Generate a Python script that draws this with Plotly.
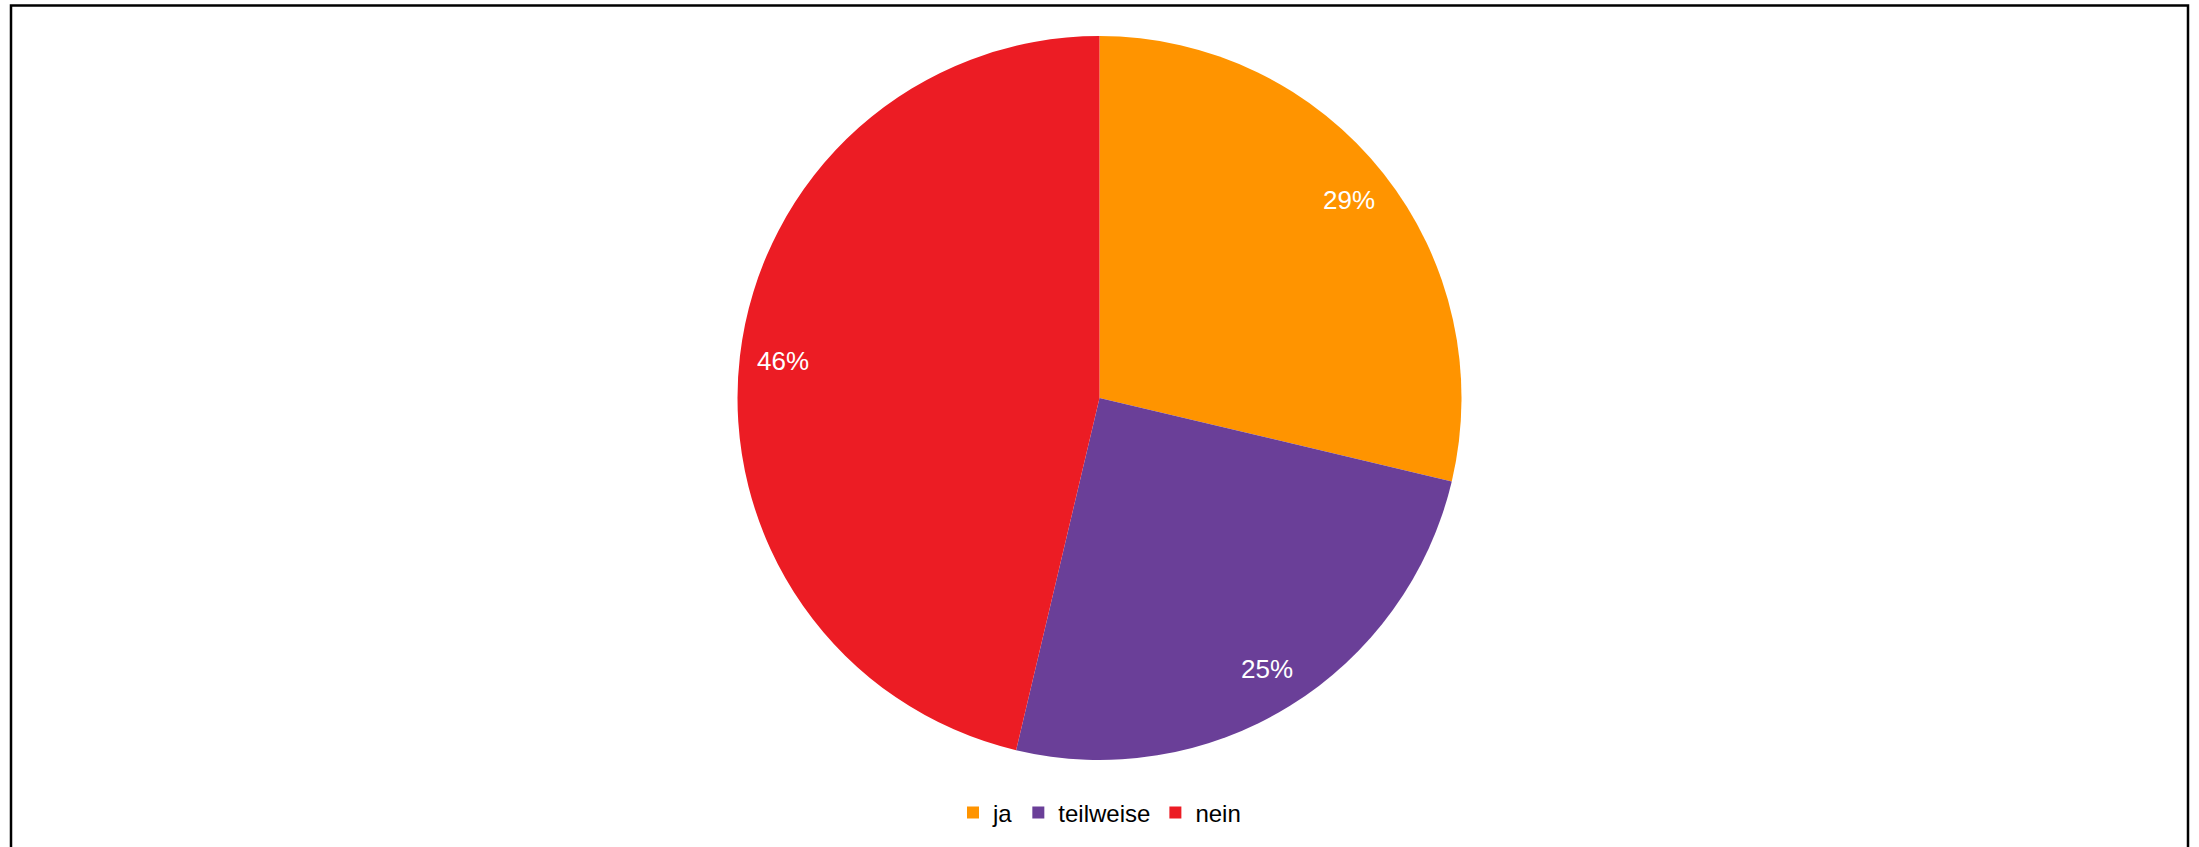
import math
import plotly.graph_objects as go

labels = ["ja", "teilweise", "nein"]
values = [28.7, 25.0, 46.3]
colors = ["#FF9400", "#6A3F98", "#EC1C24"]

W, H = 2199, 847
# pie geometry in pixels (domain)
X0, X1, YT, YB = 737.5, 1461.5, 36, 760
CX, CY = (X0 + X1) / 2, (YT + YB) / 2
R = min(X1 - X0, YB - YT) / 2
LABEL_R = 0.88

fig = go.Figure(go.Pie(
    labels=labels,
    values=values,
    marker=dict(colors=colors, line=dict(width=0)),
    sort=False,
    direction="clockwise",
    rotation=0,
    textinfo="none",
    domain=dict(x=[X0 / W, X1 / W], y=[(H - YB) / H, (H - YT) / H]),
    hoverinfo="label+percent",
))

# percentage labels placed along each slice bisector (computed from the data)
total = sum(values)
cum = 0.0
for v in values:
    mid = (cum + v / 2) / total * 2 * math.pi
    cum += v
    px = CX + LABEL_R * R * math.sin(mid)
    py = CY - LABEL_R * R * math.cos(mid)
    fig.add_annotation(x=px / W, y=1 - py / H, xref="paper", yref="paper",
                       text=f"{round(v / total * 100)}%", showarrow=False,
                       xanchor="center", yanchor="middle",
                       font=dict(family="Liberation Sans, Arial, sans-serif", size=26, color="white"))

fig.add_shape(type="rect", xref="paper", yref="paper",
              x0=11 / W, x1=2188 / W, y0=-0.2, y1=1 - 5.5 / H,
              line=dict(color="#000000", width=2.5), fillcolor="rgba(0,0,0,0)")

fig.update_layout(
    width=W, height=H,
    margin=dict(l=0, r=0, t=0, b=0),
    paper_bgcolor="white",
    plot_bgcolor="white",
    showlegend=True,
    legend=dict(orientation="h", x=0.5, xanchor="center", y=(H - 813) / H, yanchor="middle",
                font=dict(family="Liberation Sans, Arial, sans-serif", size=24, color="black"),
                bgcolor="rgba(0,0,0,0)", traceorder="normal"),
    font=dict(family="Liberation Sans, Arial, sans-serif"),
)

fig.write_html("out.html")
